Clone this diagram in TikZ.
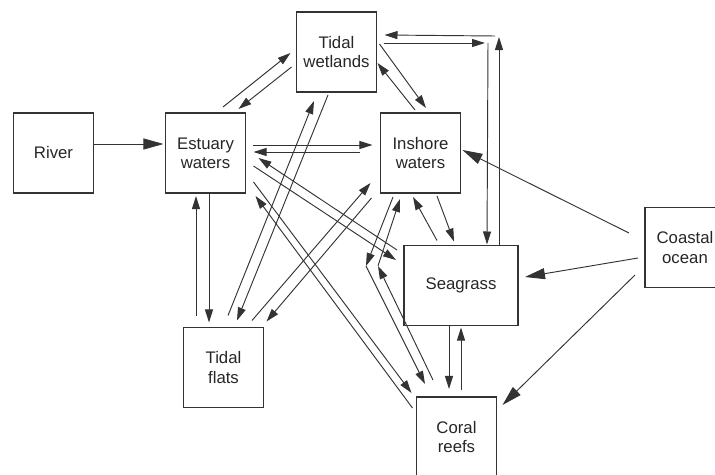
\documentclass[tikz,border=0pt]{standalone}
\usepackage{fontspec}
\setmainfont{Liberation Sans}
\usetikzlibrary{arrows.meta}

\begin{document}
\begin{tikzpicture}[x=0.03cm,y=-0.03cm,
    box/.style={draw=black!80, line width=1pt, minimum width=2.4cm, minimum height=2.4cm,
        inner sep=0pt, outer sep=0pt, align=center, text=black!85,
        font=\fontsize{14.3}{16.5}\selectfont},
    flow/.style={draw=black!80, line width=0.8pt, -{Triangle[length=0.39cm,width=0.24cm]}},
    bigflow/.style={flow, -{Triangle[length=0.6cm,width=0.33cm]}}]
    \clip (0,0) rectangle (715,475);
    % Habitat compartments
    \node[box] (river) at (53.5,153) {River};
    \node[box] (est) at (205.5,153) {Estuary\\waters};
    \node[box] (tw) at (336.5,52) {Tidal\\wetlands};
    \node[box] (ins) at (420.5,153) {Inshore\\waters};
    \node[box, minimum width=3.42cm] (sg) at (461,285.5) {Seagrass};
    \node[box] (co) at (685,247.5) {Coastal\\ocean};
    \node[box] (tf) at (223.5,367.5) {Tidal\\flats};
    \node[box] (cr) at (456.5,437) {Coral\\reefs};
    \coordinate (c1) at (488,43);
    \coordinate (c2) at (499,36);
    \coordinate (k1) at (366,266);
    \coordinate (k2) at (378,266);

    % River and estuary
    \draw[bigflow] ([shift={(0,-9)}]river.east) -- ([shift={(-2,-9)}]est.west);
    \draw[flow] ([shift={(7,-8)}]est.east) -- ([shift={(-8,-8)}]ins.west);
    \draw[flow] ([shift={(-21,-1)}]ins.west) -- ([shift={(8,-1)}]est.east);
    \draw[flow] ([shift={(17.5,-6)}]est.north) -- ([shift={(-6,1)}]tw.west);
    \draw[flow] ([shift={(-5,15)}]tw.west) -- ([shift={(-7,-4)}]est.north east);
    \draw[flow] ([shift={(3.5,0)}]est.south) -- ([shift={(-14.5,-5)}]tf.north);
    \draw[flow] ([shift={(-27.5,-12)}]tf.north) -- ([shift={(-9.5,3)}]est.south);
    \draw[flow] ([shift={(8,13)}]est.east) -- ([shift={(-8,-25.5)}]sg.west);
    \draw[flow] ([shift={(-7,-35.5)}]sg.west) -- ([shift={(13,5)}]est.east);
    \draw[flow] ([shift={(8,29)}]est.east) -- ([shift={(-5,-4)}]cr.north west);
    \draw[flow] ([shift={(-4,-29)}]cr.west) -- ([shift={(10,3)}]est.south east);

    % Tidal wetlands
    \draw[flow] ([shift={(3,-8)}]tw.east) -- ([shift={(5.5,-5)}]ins.north);
    \draw[flow] ([shift={(-5.5,-3)}]ins.north) -- ([shift={(1,11)}]tw.east);
    \draw[flow] ([shift={(7,-9)}]tw.east) -- ([shift={(-3,0)}]c1);
    \draw[flow] (c1) -- ([shift={(26,-1)}]sg.north);
    \draw[flow] ([shift={(38,0)}]sg.north) -- ([shift={(0,1)}]c2);
    \draw[flow] ([shift={(-4,0)}]c2) -- ([shift={(8,-17)}]tw.east);
    \draw[flow] ([shift={(4.5,-12)}]tf.north) -- ([shift={(-22.5,9)}]tw.south);
    \draw[flow] ([shift={(-8.5,3)}]tw.south) -- ([shift={(13.5,-7)}]tf.north);

    % Inshore waters
    \draw[flow] ([shift={(28.5,-7)}]tf.north) -- ([shift={(-10,30)}]ins.west);
    \draw[flow] ([shift={(-9,5)}]ins.south west) -- ([shift={(3,-6)}]tf.north east);
    \draw[flow] ([shift={(-27.5,4)}]ins.south) -- (k1);
    \draw[flow] (k1) -- ([shift={(-31.5,-13)}]cr.north);
    \draw[flow] ([shift={(-23.5,-17)}]cr.north) -- (k2);
    \draw[flow] (k2) -- ([shift={(-20.5,6)}]ins.south);
    \draw[flow] ([shift={(16.5,3)}]ins.south) -- ([shift={(-7,-4)}]sg.north);
    \draw[flow] ([shift={(-24,-5)}]sg.north) -- ([shift={(-7.5,4)}]ins.south);

    % Seagrass and reefs
    \draw[flow] ([shift={(-12,0)}]sg.south) -- ([shift={(-7.5,-8)}]cr.north);
    \draw[flow] ([shift={(4.5,-7)}]cr.north) -- ([shift={(0,2)}]sg.south);

    % Coastal ocean
    \draw[bigflow] ([shift={(-16,-14.5)}]co.west) -- ([shift={(2,-3)}]ins.east);
    \draw[bigflow] ([shift={(-7,10.5)}]co.west) -- ([shift={(7,-8.5)}]sg.east);
    \draw[bigflow] ([shift={(-10,27.5)}]co.west) -- ([shift={(6,-32)}]cr.east);
\end{tikzpicture}
\end{document}
